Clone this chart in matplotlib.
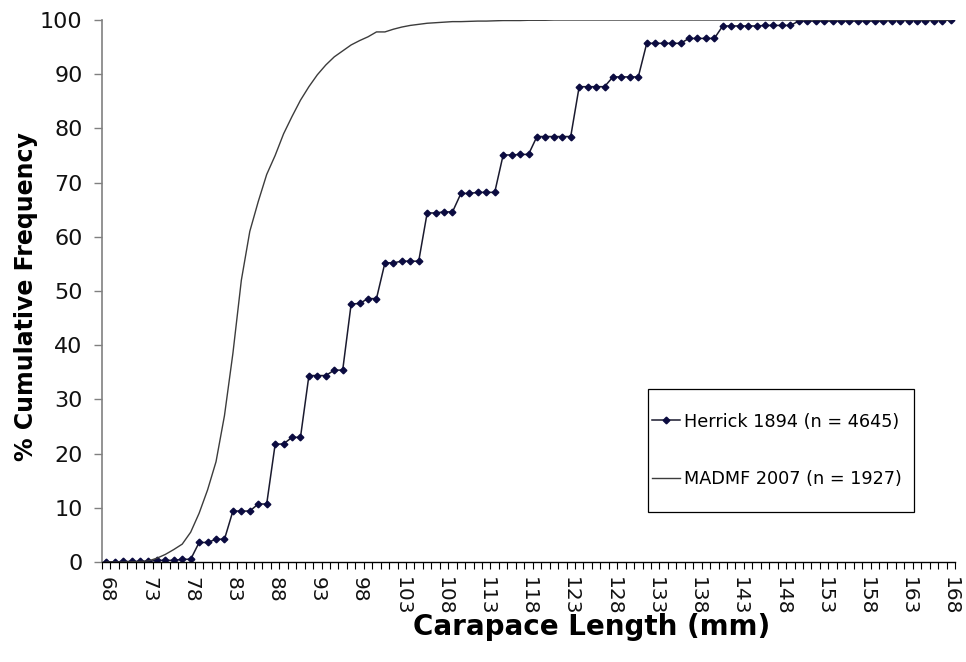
import matplotlib
matplotlib.use("Agg")
import matplotlib.pyplot as plt
from matplotlib.ticker import FixedLocator
from matplotlib.patches import Rectangle
import numpy as np

lengths_mm = list(range(68, 169))
tick_labels = [str(v) for v in range(68, 169, 5)]

herrick = [0, 0, 0.1, 0.1, 0.1, 0.1, 0.3, 0.3, 0.3, 0.5, 0.5,
           3.6, 3.6, 4.2, 4.2, 9.4, 9.4, 9.4, 10.7, 10.7,
           21.7, 21.8, 23.0, 23.0, 34.4, 34.4, 34.4, 35.4, 35.4,
           47.6, 47.7, 48.6, 48.6, 55.2, 55.2, 55.5, 55.5, 55.5,
           64.4, 64.4, 64.6, 64.6, 68.0, 68.0, 68.2, 68.2, 68.2,
           75.1, 75.1, 75.2, 75.2, 78.5, 78.5, 78.5, 78.5, 78.5,
           87.7, 87.7, 87.7, 87.7, 89.5, 89.5, 89.5, 89.5,
           95.7, 95.7, 95.7, 95.7, 95.7, 96.6, 96.6, 96.6, 96.6,
           98.9, 98.9, 98.9, 98.9, 98.9, 99.0, 99.0, 99.0, 99.0,
           99.8, 99.8, 99.8, 99.8, 99.8, 99.8, 99.8, 99.8, 99.8, 99.8, 99.8,
           99.9, 99.9, 99.9, 99.9, 99.9, 99.9, 99.9, 100]

madmf = [0, 0, 0, 0.05, 0.1, 0.2, 0.7, 1.4, 2.3, 3.3, 5.5, 9.0, 13.3, 18.5,
         27.0, 38.5, 52.0, 61.0, 66.5, 71.5, 75.0, 79.0, 82.2, 85.2, 87.7,
         89.9, 91.7, 93.2, 94.3, 95.4, 96.2, 96.9, 97.8, 97.8, 98.3, 98.7,
         99.0, 99.2, 99.4, 99.5, 99.6, 99.7, 99.7, 99.75, 99.8, 99.8, 99.85,
         99.9, 99.9, 99.9, 99.95, 99.95, 99.95] + [100] * 48

series_names = ["Herrick 1894 (n = 4645)", "MADMF 2007 (n = 1927)"]

plt.rcParams['font.family'] = ['DejaVu Sans']

W, H = 966, 662
fig = plt.figure(figsize=(W/100, H/100), dpi=100)
L, R, T, B = 102, 955, 20, 562
ax = fig.add_axes([L/W, 1 - B/H, (R - L)/W, (B - T)/H])

x = np.arange(len(lengths_mm))
ax.plot(x, herrick, color='#1a1a2e', lw=1.1, marker='D', markersize=3.4,
        markerfacecolor='#0b0b40', markeredgecolor='#0b0b40', label=series_names[0])
ax.plot(x, madmf, color='#3c3c3c', lw=1.0, label=series_names[1])

ax.set_xlim(-0.5, len(lengths_mm) - 0.5)
ax.set_ylim(0, 100)

ax.set_xticks(x[::5])
ax.set_xticklabels(tick_labels, rotation=-90, fontsize=14.5, color='#111111')
ax.xaxis.set_minor_locator(FixedLocator(np.arange(-0.5, len(lengths_mm), 1.0)))
ax.tick_params(axis='x', which='major', length=0, pad=11)
ax.tick_params(axis='x', which='minor', length=5, width=0.8, direction='out', color='black')

ax.set_yticks(range(0, 101, 10))
ax.tick_params(axis='y', which='major', length=6, width=1, color='#808080',
               direction='out', labelsize=16, pad=8, labelcolor='#111111')

for s in ['top', 'right']:
    ax.spines[s].set_visible(False)
ax.spines['left'].set_color('#808080')
ax.spines['left'].set_linewidth(1.2)
ax.spines['bottom'].set_color('black')
ax.spines['bottom'].set_linewidth(1.0)

xl = ax.set_xlabel('Carapace Length (mm)', fontsize=20, fontweight='bold')
xl.set_va('baseline')
ax.xaxis.set_label_coords((592 - L)/(R - L), -(635 - B)/(B - T))
yl = ax.set_ylabel('% Cumulative Frequency', fontsize=17, fontweight='bold')
yl.set_va('center')
ax.yaxis.set_label_coords(-(L - 26)/(R - L), 1 - (297 - T)/(B - T))

# legend box in pixel coordinates of the reference
lx0, lx1, ly0, ly1 = 648, 914, 389, 512
def ax_xy(px, py):
    return (px - L)/(R - L), 1 - (py - T)/(B - T)
x0, y1 = ax_xy(lx0, ly0)
x1, y0 = ax_xy(lx1, ly1)
ax.add_patch(Rectangle((x0, y0), x1 - x0, y1 - y0, transform=ax.transAxes,
                       facecolor='white', edgecolor='black', lw=0.9, zorder=4))
leg = ax.legend(loc='center left', bbox_to_anchor=(x0, (y0 + y1)/2),
                fontsize=12.7, frameon=False,
                handlelength=1.6, handletextpad=0.25, labelspacing=2.25,
                borderpad=0.2, borderaxespad=0)
leg.set_zorder(5)

fig.savefig('out.png', dpi=100)
